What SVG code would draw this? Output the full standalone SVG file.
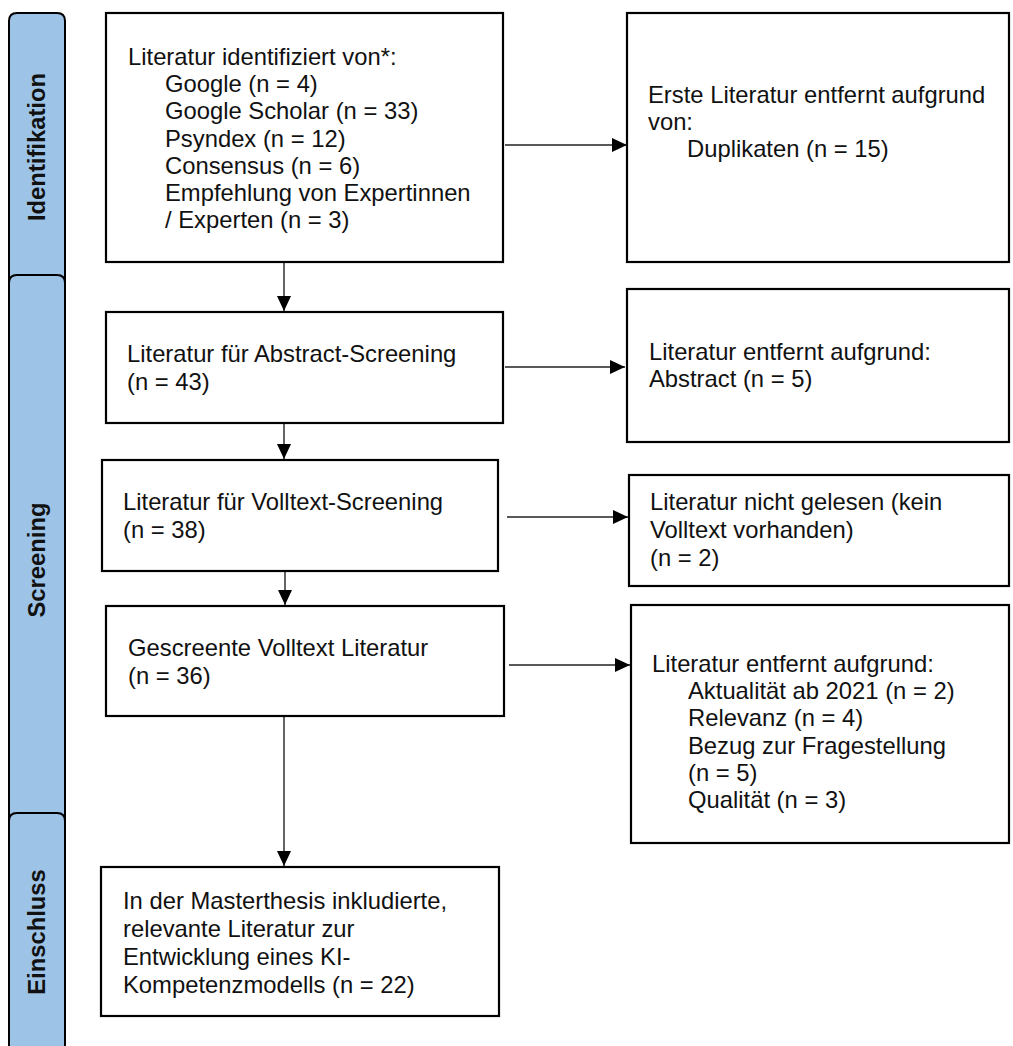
<svg xmlns="http://www.w3.org/2000/svg" width="1013" height="1046" viewBox="0 0 1013 1046">
<style>
.bg{fill:#ffffff}
.tab{fill:#9DC3E6;stroke:#000;stroke-width:2}
.tabt{font-family:"Liberation Sans",Arial,sans-serif;font-size:23.8px;font-weight:bold;fill:#111;text-anchor:middle}
.box{fill:#ffffff;stroke:#000;stroke-width:2.2}
.t{font-family:"Liberation Sans",Arial,sans-serif;font-size:23.8px;fill:#111}
.c{fill:none;stroke:#222;stroke-width:1.4}
</style>
<defs>
<marker id="ah" viewBox="0 0 15 14" refX="15" refY="7" markerWidth="15" markerHeight="14" markerUnits="userSpaceOnUse" orient="auto">
<path d="M0,0 L15,7 L0,14 z" fill="#000"/>
</marker>
</defs>
<rect class="bg" x="0" y="0" width="1013" height="1046"/>

<g id="tab-identifikation">
<path class="tab" d="M9,300 L9,21 Q9,13 17,13 L57,13 Q65,13 65,21 L65,300"/>
<text class="tabt" transform="translate(45,147) rotate(-90)">Identifikation</text>
</g>
<g id="tab-screening">
<path class="tab" d="M9,840 L9,283 Q9,275 17,275 L57,275 Q65,275 65,283 L65,840"/>
<text class="tabt" transform="translate(45,560) rotate(-90)">Screening</text>
</g>
<g id="tab-einschluss">
<path class="tab" d="M9,1050 L9,821 Q9,813 17,813 L57,813 Q65,813 65,821 L65,1050"/>
<text class="tabt" transform="translate(45,932) rotate(-90)">Einschluss</text>
</g>

<g id="connectors">
<line class="c" x1="505" y1="145" x2="627" y2="145" marker-end="url(#ah)"/>
<line class="c" x1="505" y1="367" x2="625" y2="367" marker-end="url(#ah)"/>
<line class="c" x1="507" y1="517" x2="628" y2="517" marker-end="url(#ah)"/>
<line class="c" x1="509" y1="665" x2="630" y2="665" marker-end="url(#ah)"/>
<line class="c" x1="284" y1="263" x2="284" y2="311" marker-end="url(#ah)"/>
<line class="c" x1="284" y1="424" x2="284" y2="459" marker-end="url(#ah)"/>
<line class="c" x1="285" y1="572" x2="285" y2="605" marker-end="url(#ah)"/>
<line class="c" x1="284" y1="717" x2="284" y2="866" marker-end="url(#ah)"/>
</g>

<g id="node-identifiziert">
<rect class="box" x="106" y="13" width="397" height="249"/>
<text class="t" x="128" y="65">Literatur identifiziert von*:</text>
<text class="t" x="165" y="92">Google (n = 4)</text>
<text class="t" x="165" y="119">Google Scholar (n = 33)</text>
<text class="t" x="165" y="146.5">Psyndex (n = 12)</text>
<text class="t" x="165" y="173.5">Consensus (n = 6)</text>
<text class="t" x="165" y="201">Empfehlung von Expertinnen</text>
<text class="t" x="165" y="228">/ Experten (n = 3)</text>
</g>

<g id="node-duplikate">
<rect class="box" x="627" y="13" width="382" height="249"/>
<text class="t" x="648" y="103">Erste Literatur entfernt aufgrund</text>
<text class="t" x="648" y="130">von:</text>
<text class="t" x="687" y="157">Duplikaten (n = 15)</text>
</g>

<g id="node-abstract-screening">
<rect class="box" x="106" y="312" width="397" height="111"/>
<text class="t" x="127" y="362">Literatur für Abstract-Screening</text>
<text class="t" x="127" y="390">(n = 43)</text>
</g>

<g id="node-abstract-removed">
<rect class="box" x="627" y="289" width="382" height="153"/>
<text class="t" x="649" y="360">Literatur entfernt aufgrund:</text>
<text class="t" x="649" y="387">Abstract (n = 5)</text>
</g>

<g id="node-volltext-screening">
<rect class="box" x="102" y="460" width="396" height="111"/>
<text class="t" x="123" y="510">Literatur für Volltext-Screening</text>
<text class="t" x="123" y="538">(n = 38)</text>
</g>

<g id="node-nicht-gelesen">
<rect class="box" x="629" y="475" width="380" height="111"/>
<text class="t" x="650" y="510">Literatur nicht gelesen (kein</text>
<text class="t" x="650" y="538">Volltext vorhanden)</text>
<text class="t" x="650" y="566">(n = 2)</text>
</g>

<g id="node-gescreent">
<rect class="box" x="106" y="606" width="398" height="110"/>
<text class="t" x="128" y="656">Gescreente Volltext Literatur</text>
<text class="t" x="128" y="684">(n = 36)</text>
</g>

<g id="node-volltext-removed">
<rect class="box" x="631" y="605" width="378" height="238"/>
<text class="t" x="652" y="672">Literatur entfernt aufgrund:</text>
<text class="t" x="688" y="699">Aktualität ab 2021 (n = 2)</text>
<text class="t" x="688" y="726">Relevanz (n = 4)</text>
<text class="t" x="688" y="754">Bezug zur Fragestellung</text>
<text class="t" x="688" y="781">(n = 5)</text>
<text class="t" x="688" y="808">Qualität (n = 3)</text>
</g>

<g id="node-eingeschlossen">
<rect class="box" x="101" y="867" width="398" height="149"/>
<text class="t" x="123" y="909">In der Masterthesis inkludierte,</text>
<text class="t" x="123" y="937">relevante Literatur zur</text>
<text class="t" x="123" y="965">Entwicklung eines KI-</text>
<text class="t" x="123" y="993">Kompetenzmodells (n = 22)</text>
</g>
</svg>
